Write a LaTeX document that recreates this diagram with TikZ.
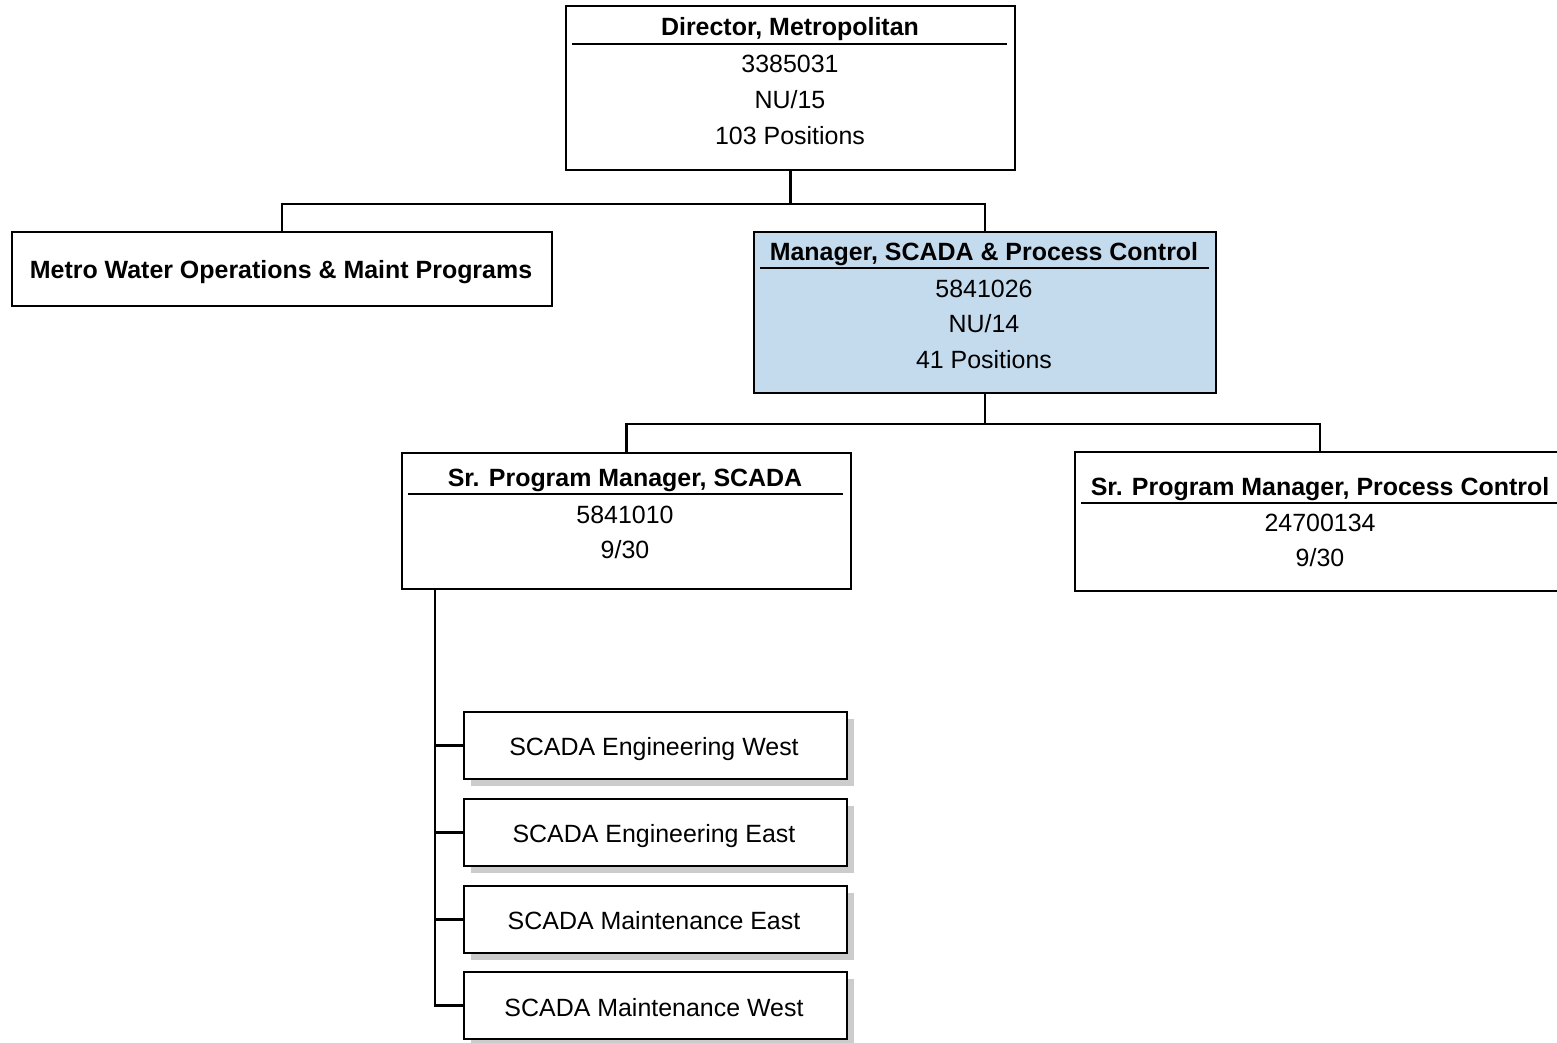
\documentclass[tikz,border=0pt]{standalone}
\usepackage{fontspec}
\setmainfont{Liberation Sans}
\usetikzlibrary{shadows}
\definecolor{mgrblue}{RGB}{196,219,238}
\newdimen\px \px=0.02cm
\tikzset{
  orgbox/.style={draw, line width=1.1pt, anchor=north west, inner sep=0pt},
  unitbox/.style={orgbox, fill=white, minimum width=383\px, minimum height=67\px,
    general shadow={fill=black!20, shadow xshift=4pt, shadow yshift=-4pt}},
  lbl/.style={inner sep=0pt, text height=10.2pt, text depth=0pt,
    font=\fontsize{14.2}{17}\selectfont},
  ttl/.style={lbl, font=\fontsize{14.2}{17}\selectfont\bfseries},
  conn/.style={line width=1.2pt}
}
\begin{document}
\begin{tikzpicture}[x=0.02cm, y=-0.02cm]
    % 1. Page frame
    \useasboundingbox (0,0) rectangle (1557,1042);
    \clip (0,0) rectangle (1557,1042);

    % 2. Director
    \node[orgbox, minimum width=449\px, minimum height=164\px] (dir) at (565,5) {};
    \node[ttl] (dirT) at (790,27) {Director, Metropolitan};
    \draw[conn] (572,44) -- (1007,44);
    \node[lbl] (dirA) at (790,64) {3385031};
    \node[lbl] (dirB) at (790,100) {NU/15};
    \node[lbl] (dirC) at (790,136) {103 Positions};

    % 3. Second level
    \node[orgbox, minimum width=540\px, minimum height=74\px] (metro) at (11,231) {};
    \node[ttl] (metroT) at (281,270) {Metro Water Operations \& Maint Programs};

    \node[orgbox, fill=mgrblue, minimum width=462\px, minimum height=161\px] (mgr) at (753,231) {};
    \node[ttl] (mgrT) at (984,252) {Manager, SCADA \& Process Control};
    \draw[conn] (760,268) -- (1209,268);
    \node[lbl] (mgrA) at (984,289) {5841026};
    \node[lbl] (mgrB) at (984,324) {NU/14};
    \node[lbl] (mgrC) at (984,360) {41 Positions};

    \path (dir.south) ++(0,33) coordinate (j1);
    \draw[conn] (dir.south) -- (j1);
    \draw[conn] (metro.north) |- (j1) -| (mgr.north);

    % 4. Third level
    \node[orgbox, minimum width=449\px, minimum height=136\px] (sps) at (401,452) {};
    \node[ttl] (spsT) at (625,478) {Sr. Program Manager, SCADA};
    \draw[conn] (408,494) -- (843,494);
    \node[lbl] (spsA) at (625,515) {5841010};
    \node[lbl] (spsB) at (625,550) {9/30};

    \node[orgbox, minimum width=520\px, minimum height=139\px] (spp) at (1074,451) {};
    \node[ttl] (sppT) at (1320,487) {Sr. Program Manager, Process Control};
    \draw[conn] (1081,503) -- (1570,503);
    \node[lbl] (sppA) at (1320,523) {24700134};
    \node[lbl] (sppB) at (1320,558) {9/30};

    \path (mgr.south) ++(0,30) coordinate (j2);
    \coordinate (sppTop) at (1320,451);
    \draw[conn] (mgr.south) -- (j2);
    \draw[conn] (sps.north) |- (j2) -| (sppTop);

    % 5. SCADA units
    \node[unitbox] (u1) at (463,711) {};
    \node[lbl] (u1T) at (654,747) {SCADA Engineering West};
    \node[unitbox] (u2) at (463,798) {};
    \node[lbl] (u2T) at (654,834) {SCADA Engineering East};
    \node[unitbox] (u3) at (463,885) {};
    \node[lbl] (u3T) at (654,921) {SCADA Maintenance East};
    \node[unitbox] (u4) at (463,971) {};
    \node[lbl] (u4T) at (654,1008) {SCADA Maintenance West};

    \coordinate (trunk) at (435,588);
    \draw[conn] (trunk) |- (u4.west);
    \foreach \u in {u1,u2,u3}
        \draw[conn] (\u.west) -- (\u.west -| trunk);
\end{tikzpicture}
\end{document}
